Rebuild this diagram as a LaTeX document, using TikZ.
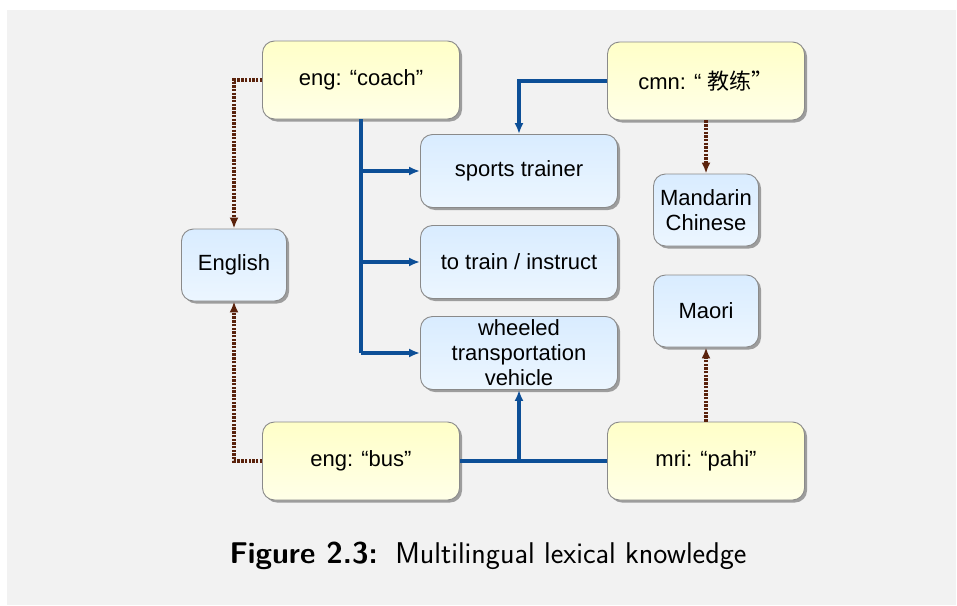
\documentclass[tikz,border=0pt]{standalone}
\usepackage{fontspec}
\setmainfont{Liberation Sans}
\newfontfamily\cjk{Noto Sans CJK SC}
\usetikzlibrary{arrows.meta,shadows}
\definecolor{bgc}{HTML}{F2F2F2}
\definecolor{bordc}{HTML}{8A8A8A}
\definecolor{ytop}{HTML}{FFFFC8}
\definecolor{ybot}{HTML}{FFFFE8}
\definecolor{btop}{HTML}{D9ECFF}
\definecolor{bbot}{HTML}{ECF6FF}
\definecolor{bluel}{HTML}{0D4F97}
\definecolor{brownl}{HTML}{5A220C}
\begin{document}
\begin{tikzpicture}[x=1pt,y=-1pt,
  box/.style={draw=bordc, line width=0.9pt, rounded corners=12pt, align=center,
    inner sep=0pt, font=\fontsize{22}{25}\selectfont,
    drop shadow={shadow xshift=2.5pt, shadow yshift=-2.5pt, fill=black, opacity=0.35}},
  ybox/.style={box, top color=ytop, bottom color=ybot, minimum width=197pt, minimum height=78pt},
  bbox/.style={box, top color=btop, bottom color=bbot},
  wide/.style={bbox, minimum width=197pt, minimum height=73pt},
  small/.style={bbox, minimum width=105pt, minimum height=72pt},
  sense/.style={draw=bluel, line width=3.3pt, -{Latex[length=11pt,width=9pt]}},
  senseplain/.style={draw=bluel, line width=3.3pt},
  lang/.style={draw=brownl, line width=3.3pt, dash pattern=on 2.4pt off 1.3pt, -{Latex[length=11pt,width=9pt]}},
  langplain/.style={draw=brownl, line width=3.3pt, dash pattern=on 2.4pt off 1.3pt}
]
\useasboundingbox (0,0) rectangle (957,605);
\fill[white] (0,0) rectangle (957,605);
\fill[bgc] (7,10) rectangle (956,605);

\node[ybox] (coach) at (361,80) {eng: “coach”};
\node[ybox] (cmn) at (706,81) {cmn: “ {\cjk 教练”}};
\node[wide] (sports) at (519,171) {sports trainer};
\node[wide] (train) at (519,262) {to train / instruct};
\node[wide] (wheel) at (519,353) {wheeled\\transportation\\vehicle};
\node[small] (english) at (234,265) {English};
\node[small] (mandarin) at (706,210) {Mandarin\\Chinese};
\node[small] (maori) at (706,311) {Maori};
\node[ybox] (bus) at (361,461) {eng: “bus”};
\node[ybox] (mri) at (706,461) {mri: “pahi”};

\coordinate (c3) at (361,353);
\draw[senseplain] (coach.south) -- (c3);
\draw[sense] (coach.south |- sports.west) -- (sports.west);
\draw[sense] (coach.south |- train.west) -- (train.west);
\draw[sense] (c3) -- (wheel.west);
\draw[sense] (cmn.west) -| (sports.north);
\draw[senseplain] (bus.east) -- (mri.west);
\draw[sense] (wheel.south |- bus.east) -- (wheel.south);

\draw[lang] (cmn.south) -- (mandarin.north);
\draw[lang] (mri.north) -- (maori.south);
\draw[lang] (coach.west) -| (english.north);
\draw[lang] (bus.west) -| (english.south);

\node[font=\sffamily\fontsize{30}{36}\selectfont] (cap) at (488,556) {\textbf{Figure 2.3:}\, Multilingual lexical knowledge};
\end{tikzpicture}
\end{document}
